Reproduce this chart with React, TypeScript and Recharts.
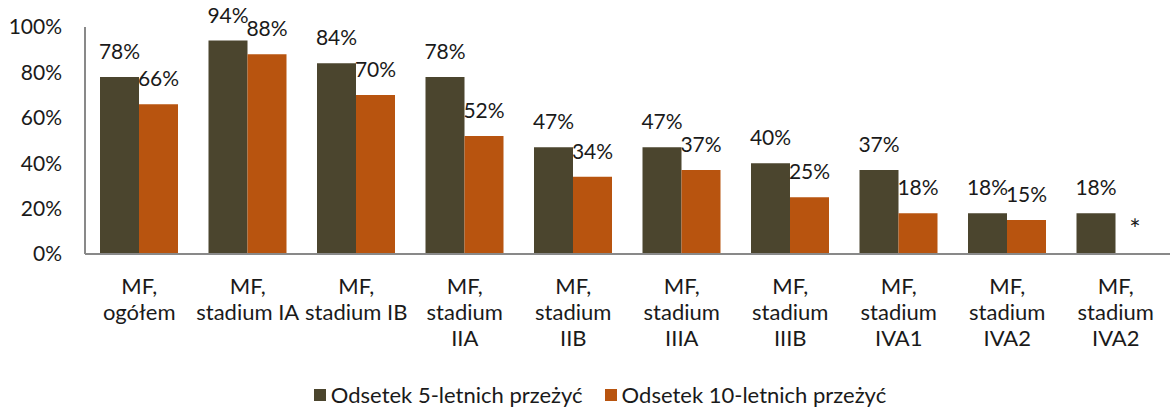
import React from 'react';
import { BarChart, Bar, XAxis, YAxis, Legend, LabelList } from 'recharts';

const categories = [
  'MF,\nogółem',
  'MF,\nstadium IA',
  'MF,\nstadium IB',
  'MF,\nstadium\nIIA',
  'MF,\nstadium\nIIB',
  'MF,\nstadium\nIIIA',
  'MF,\nstadium\nIIIB',
  'MF,\nstadium\nIVA1',
  'MF,\nstadium\nIVA2',
  'MF,\nstadium\nIVA2',
];
const fiveYear = [78, 94, 84, 78, 47, 47, 40, 37, 18, 18];
// last category has no 10-year value, marked with "*"
const tenYear: (number | null)[] = [66, 88, 70, 52, 34, 37, 25, 18, 15, null];
const yTicks = [0, 20, 40, 60, 80, 100];

const seriesNames = ['Odsetek 5-letnich przeżyć', 'Odsetek 10-letnich przeżyć'];
const DARK = '#4b452e';
const ORANGE = '#b8540f';
const FONT = "Lato, 'Open Sans', sans-serif";

const data = categories.map((name, i) => ({
  name,
  five: fiveYear[i],
  ten: tenYear[i] ?? 0,
}));

const XTick = (props: any) => {
  const { x, y, payload } = props;
  const lines = String(payload.value).split('\n');
  return (
    <text x={x} y={y} textAnchor="middle" fill="#1a1a1a" fontSize={22} fontFamily={FONT}>
      {lines.map((l, i) => (
        <tspan key={i} x={x} dy={i === 0 ? 40 : 26}>
          {l}
        </tspan>
      ))}
    </text>
  );
};

const labelStyle = { fill: '#1a1a1a', fontSize: 21, fontFamily: FONT };

// 5-year labels; also puts the "*" in the empty 10-year slot next to the bar
const fiveLabel = (props: any) => {
  const { x, y, width, height, index } = props;
  const cx = Number(x) + Number(width) / 2;
  const base = Number(y) + Number(height);
  return (
    <g>
      <text x={cx} y={Number(y) - 18} textAnchor="middle" {...labelStyle}>
        {`${fiveYear[index]}%`}
      </text>
      {tenYear[index] == null && (
        <text x={cx + Number(width)} y={base - 15} textAnchor="middle" {...labelStyle} fontSize={27}>
          *
        </text>
      )}
    </g>
  );
};

const tenLabel = (props: any) => {
  const { x, y, width, index } = props;
  if (tenYear[index] == null) return null;
  return (
    <text x={Number(x) + Number(width) / 2} y={Number(y) - 18} textAnchor="middle" {...labelStyle}>
      {`${tenYear[index]}%`}
    </text>
  );
};

const LegendContent = () => (
  <div
    style={{
      display: 'flex',
      justifyContent: 'center',
      paddingTop: 18,
      paddingLeft: 30,
      height: 26,
      fontFamily: FONT,
      fontSize: 22,
      color: '#1a1a1a',
      lineHeight: '20px',
    }}
  >
    {seriesNames.map((n, i) => (
      <div key={n} style={{ display: 'flex', alignItems: 'center', marginRight: i === 0 ? 22 : 0 }}>
        <span
          style={{
            display: 'inline-block',
            width: 12,
            height: 12,
            background: i === 0 ? DARK : ORANGE,
            marginRight: 5,
          }}
        />
        <span>{n}</span>
      </div>
    ))}
  </div>
);

export default function App() {
  return (
    <div style={{ position: 'absolute', left: 0, top: 0, background: '#fff' }}>
      <BarChart
        width={1171}
        height={408}
        data={data}
        margin={{ top: 27, right: 1, left: 0, bottom: 0 }}
        barCategoryGap={15}
        barGap={0}
      >
        <XAxis
          dataKey="name"
          height={110}
          tickLine={false}
          tickSize={0}
          tickMargin={0}
          interval={0}
          stroke="#898989"
          strokeWidth={2}
          tick={<XTick />}
        />
        <YAxis
          width={85}
          domain={[0, 100]}
          ticks={yTicks}
          tickFormatter={(v) => `${v}%`}
          tickLine={false}
          tickSize={0}
          tickMargin={23}
          stroke="#898989"
          strokeWidth={2}
          tick={{ fill: '#1a1a1a', fontSize: 21, fontFamily: FONT }}
        />
        <Legend verticalAlign="bottom" height={44} content={<LegendContent />} />
        <Bar dataKey="five" name={seriesNames[0]} fill={DARK} isAnimationActive={false}>
          <LabelList dataKey="five" content={fiveLabel} />
        </Bar>
        <Bar dataKey="ten" name={seriesNames[1]} fill={ORANGE} isAnimationActive={false}>
          <LabelList dataKey="ten" content={tenLabel} />
        </Bar>
      </BarChart>
    </div>
  );
}
